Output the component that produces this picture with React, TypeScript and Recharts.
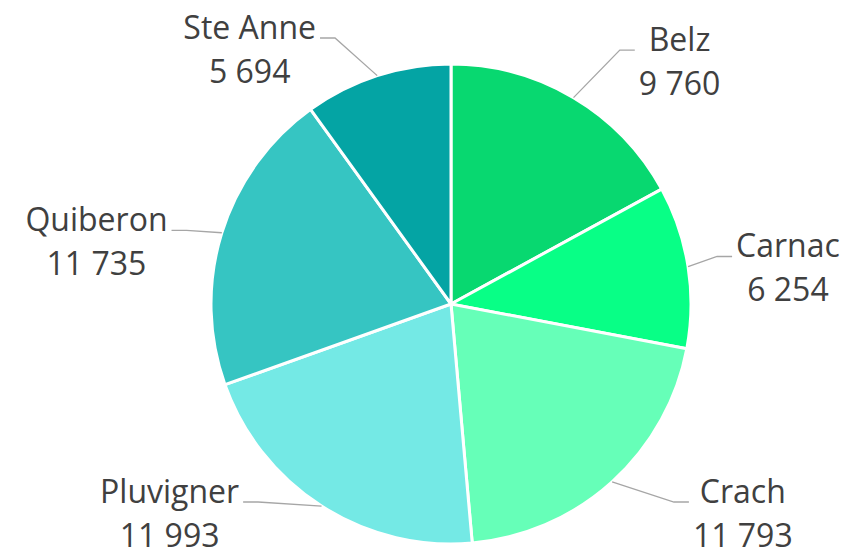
import React from "react";
import { PieChart, Pie, Cell } from "recharts";

const towns = ["Belz", "Carnac", "Crach", "Pluvigner", "Quiberon", "Ste Anne"];
const population = [9760, 6254, 11793, 11993, 11735, 5694];
const colors = ["#08D870", "#08FF86", "#66FFB8", "#74E9E5", "#36C5C2", "#04A4A4"];

const data = towns.map((name, i) => ({ name, value: population[i] }));

const W = 861;
const H = 557;
const FONT = "32px 'Open Sans'";
const RADIAN = Math.PI / 180;

let ctx: CanvasRenderingContext2D | null = null;
function textWidth(s: string) {
  if (!ctx) ctx = document.createElement("canvas").getContext("2d");
  if (!ctx) return s.length * 16;
  ctx.font = FONT;
  return ctx.measureText(s).width;
}

// 11735 -> "11 735"
const fmt = (v: number) => String(v).replace(/\B(?=(\d{3})+(?!\d))/g, " ");

function renderLabel(props: any) {
  const { cx, cy, midAngle, outerRadius, name, value } = props;
  const dx = Math.cos(-midAngle * RADIAN);
  const dy = Math.sin(-midAngle * RADIAN);
  const side = dx >= 0 ? 1 : -1;
  const valueText = fmt(value);
  const w = Math.max(textWidth(name), textWidth(valueText));

  // label block: pushed out along the mid angle, kept inside the picture;
  // steep labels slide further out sideways
  const r = outerRadius + 45;
  const push = 55 * Math.abs(dy) - 5 + 20 * Math.max(dy, 0);
  const bx = cx + r * dx + side * (w / 2 + push);
  let by = cy + r * dy + (side < 0 ? 30 : 8) * (1 - Math.abs(dy));
  by = Math.min(Math.max(by, 48), H - 45);

  const sx = cx + outerRadius * dx;
  const sy = cy + outerRadius * dy;
  const ex = bx - side * (w / 2 + 4);
  const ey = by - 10;
  const mx = ex - side * 15;

  return (
    <g>
      <polyline
        points={`${sx},${sy} ${mx},${ey} ${ex},${ey}`}
        fill="none"
        stroke="#a6a6a6"
        strokeWidth={1.3}
      />
      <text
        x={bx}
        y={by - 22}
        textAnchor="middle"
        dominantBaseline="central"
        fill="#404040"
        style={{ font: FONT }}
      >
        {name}
      </text>
      <text
        x={bx}
        y={by + 22}
        textAnchor="middle"
        dominantBaseline="central"
        fill="#404040"
        style={{ font: FONT }}
      >
        {valueText}
      </text>
    </g>
  );
}

export default function App() {
  return (
    <div style={{ position: "absolute", left: 0, top: 0, width: W, height: H, background: "#fff" }}>
      <PieChart width={W} height={H}>
        <Pie
          data={data}
          dataKey="value"
          nameKey="name"
          cx={446}
          cy={299}
          outerRadius={240}
          startAngle={90}
          endAngle={-270}
          stroke="#fff"
          strokeWidth={3}
          label={renderLabel}
          labelLine={false}
          isAnimationActive={false}
        >
          {data.map((d, i) => (
            <Cell key={d.name} fill={colors[i]} />
          ))}
        </Pie>
      </PieChart>
    </div>
  );
}
